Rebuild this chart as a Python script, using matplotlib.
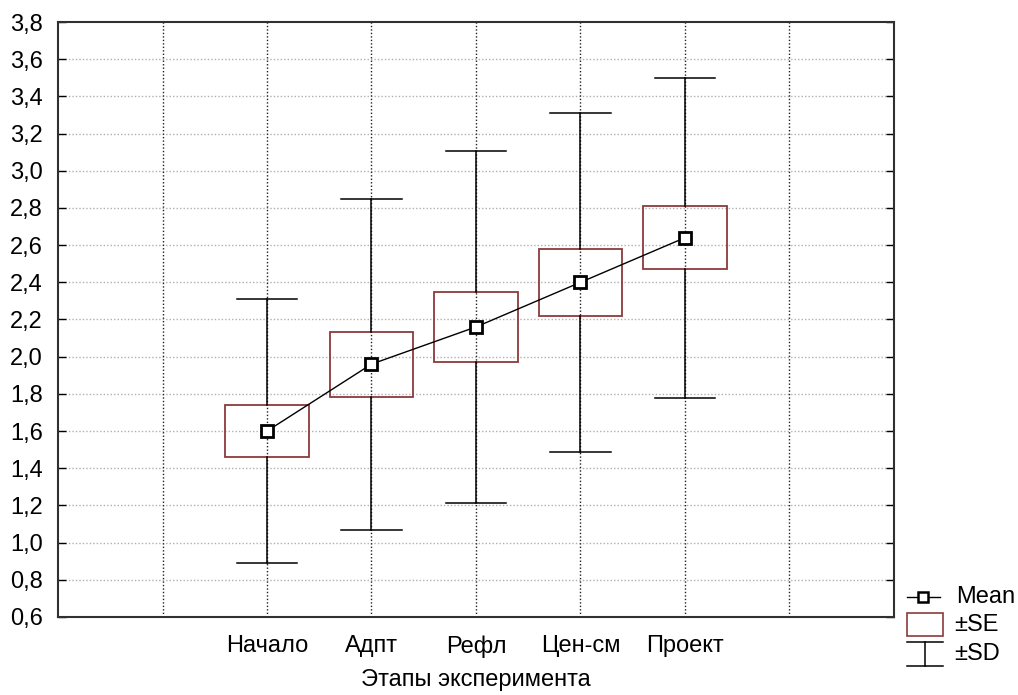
import numpy as np
import matplotlib
matplotlib.use("Agg")
import matplotlib.pyplot as plt
from matplotlib.patches import Rectangle
from matplotlib.lines import Line2D

plt.rcParams['font.family'] = ['Liberation Sans', 'DejaVu Sans']

stages = ["Начало", "Адпт", "Рефл", "Цен-см", "Проект"]
means = [1.60, 1.96, 2.16, 2.40, 2.64]
se = [0.14, 0.175, 0.19, 0.18, 0.17]
sd = [0.71, 0.89, 0.945, 0.91, 0.86]
y_ticks = [0.6, 0.8, 1.0, 1.2, 1.4, 1.6, 1.8, 2.0, 2.2, 2.4, 2.6, 2.8, 3.0, 3.2, 3.4, 3.6, 3.8]

W, H = 1018, 695
fs = 17
fig = plt.figure(figsize=(W / 100, H / 100), dpi=100)
ax = fig.add_axes([58 / W, 1 - 617 / H, (894 - 58) / W, (617 - 22) / H])

box_col = '#8c3a3a'
x = np.arange(len(stages)) + 2
box_w = 0.8
cap_w = 0.58

for xi, m, s, d in zip(x, means, se, sd):
    ax.add_patch(Rectangle((xi - box_w / 2, m - s), box_w, 2 * s, fill=False,
                           edgecolor=box_col, linewidth=1.3, zorder=3))
    ax.plot([xi, xi], [m + s, m + d], color='black', lw=1.1, zorder=3)
    ax.plot([xi, xi], [m - s, m - d], color='black', lw=1.1, zorder=3)
    ax.plot([xi - cap_w / 2, xi + cap_w / 2], [m + d, m + d], color='black', lw=1.1, zorder=3)
    ax.plot([xi - cap_w / 2, xi + cap_w / 2], [m - d, m - d], color='black', lw=1.1, zorder=3)

ax.plot(x, means, color='black', lw=1.0, marker='s', markersize=8,
        markerfacecolor='white', markeredgecolor='black', markeredgewidth=2, zorder=4)

ax.set_xlim(0, 8)
ax.set_ylim(0.6, 3.8)
ax.set_yticks(y_ticks)
ax.set_yticklabels([f"{v:.1f}".replace('.', ',') for v in y_ticks], fontsize=fs)
ax.set_xticks(np.arange(1, 8))
ax.set_xticklabels([""] + stages + [""], fontsize=fs)
ax.tick_params(axis='x', length=0, pad=13)
ax.tick_params(axis='y', direction='in', length=6, right=True, pad=11, width=1)

for v in y_ticks[1:-1]:
    ax.axhline(v, color='#b0b0b0', lw=1.0, ls=(0, (1, 1.5)), zorder=1)
for v in range(1, 8):
    ax.axvline(v, color='#202020', lw=1.0, ls=(0, (1, 1.5)), zorder=1)

for sp in ax.spines.values():
    sp.set_linewidth(1.5)
    sp.set_color('#303030')

ax.set_xlabel("Этапы эксперимента", fontsize=fs, va='center')
ax.xaxis.set_label_coords(0.5, -(680 - 617) / (617 - 22))


# legend drawn by hand in pixel positions
def fx(px):
    return px / W


def fy(py):
    return 1 - py / H


tf = fig.transFigure
fig.add_artist(Line2D([fx(907), fx(940)], [fy(597), fy(597)], color='black', lw=1.0, transform=tf))
fig.add_artist(Line2D([fx(923)], [fy(597)], marker='s', markersize=7, markerfacecolor='white',
                      markeredgecolor='black', markeredgewidth=1.8, transform=tf))
fig.text(fx(956), fy(597), "Mean", fontsize=fs, va='center', ha='left')

fig.add_artist(Rectangle((fx(907), fy(636)), fx(943) - fx(907), fy(613) - fy(636), fill=False,
                         edgecolor=box_col, lw=1.2, transform=tf))
fig.text(fx(954), fy(625), "±SE", fontsize=fs, va='center', ha='left')

fig.add_artist(Line2D([fx(907), fx(943)], [fy(642), fy(642)], color='black', lw=1.1, transform=tf))
fig.add_artist(Line2D([fx(925), fx(925)], [fy(642), fy(666)], color='black', lw=1.1, transform=tf))
fig.add_artist(Line2D([fx(907), fx(943)], [fy(666), fy(666)], color='black', lw=1.1, transform=tf))
fig.text(fx(954), fy(654), "±SD", fontsize=fs, va='center', ha='left')

fig.savefig("out.png", dpi=100)
